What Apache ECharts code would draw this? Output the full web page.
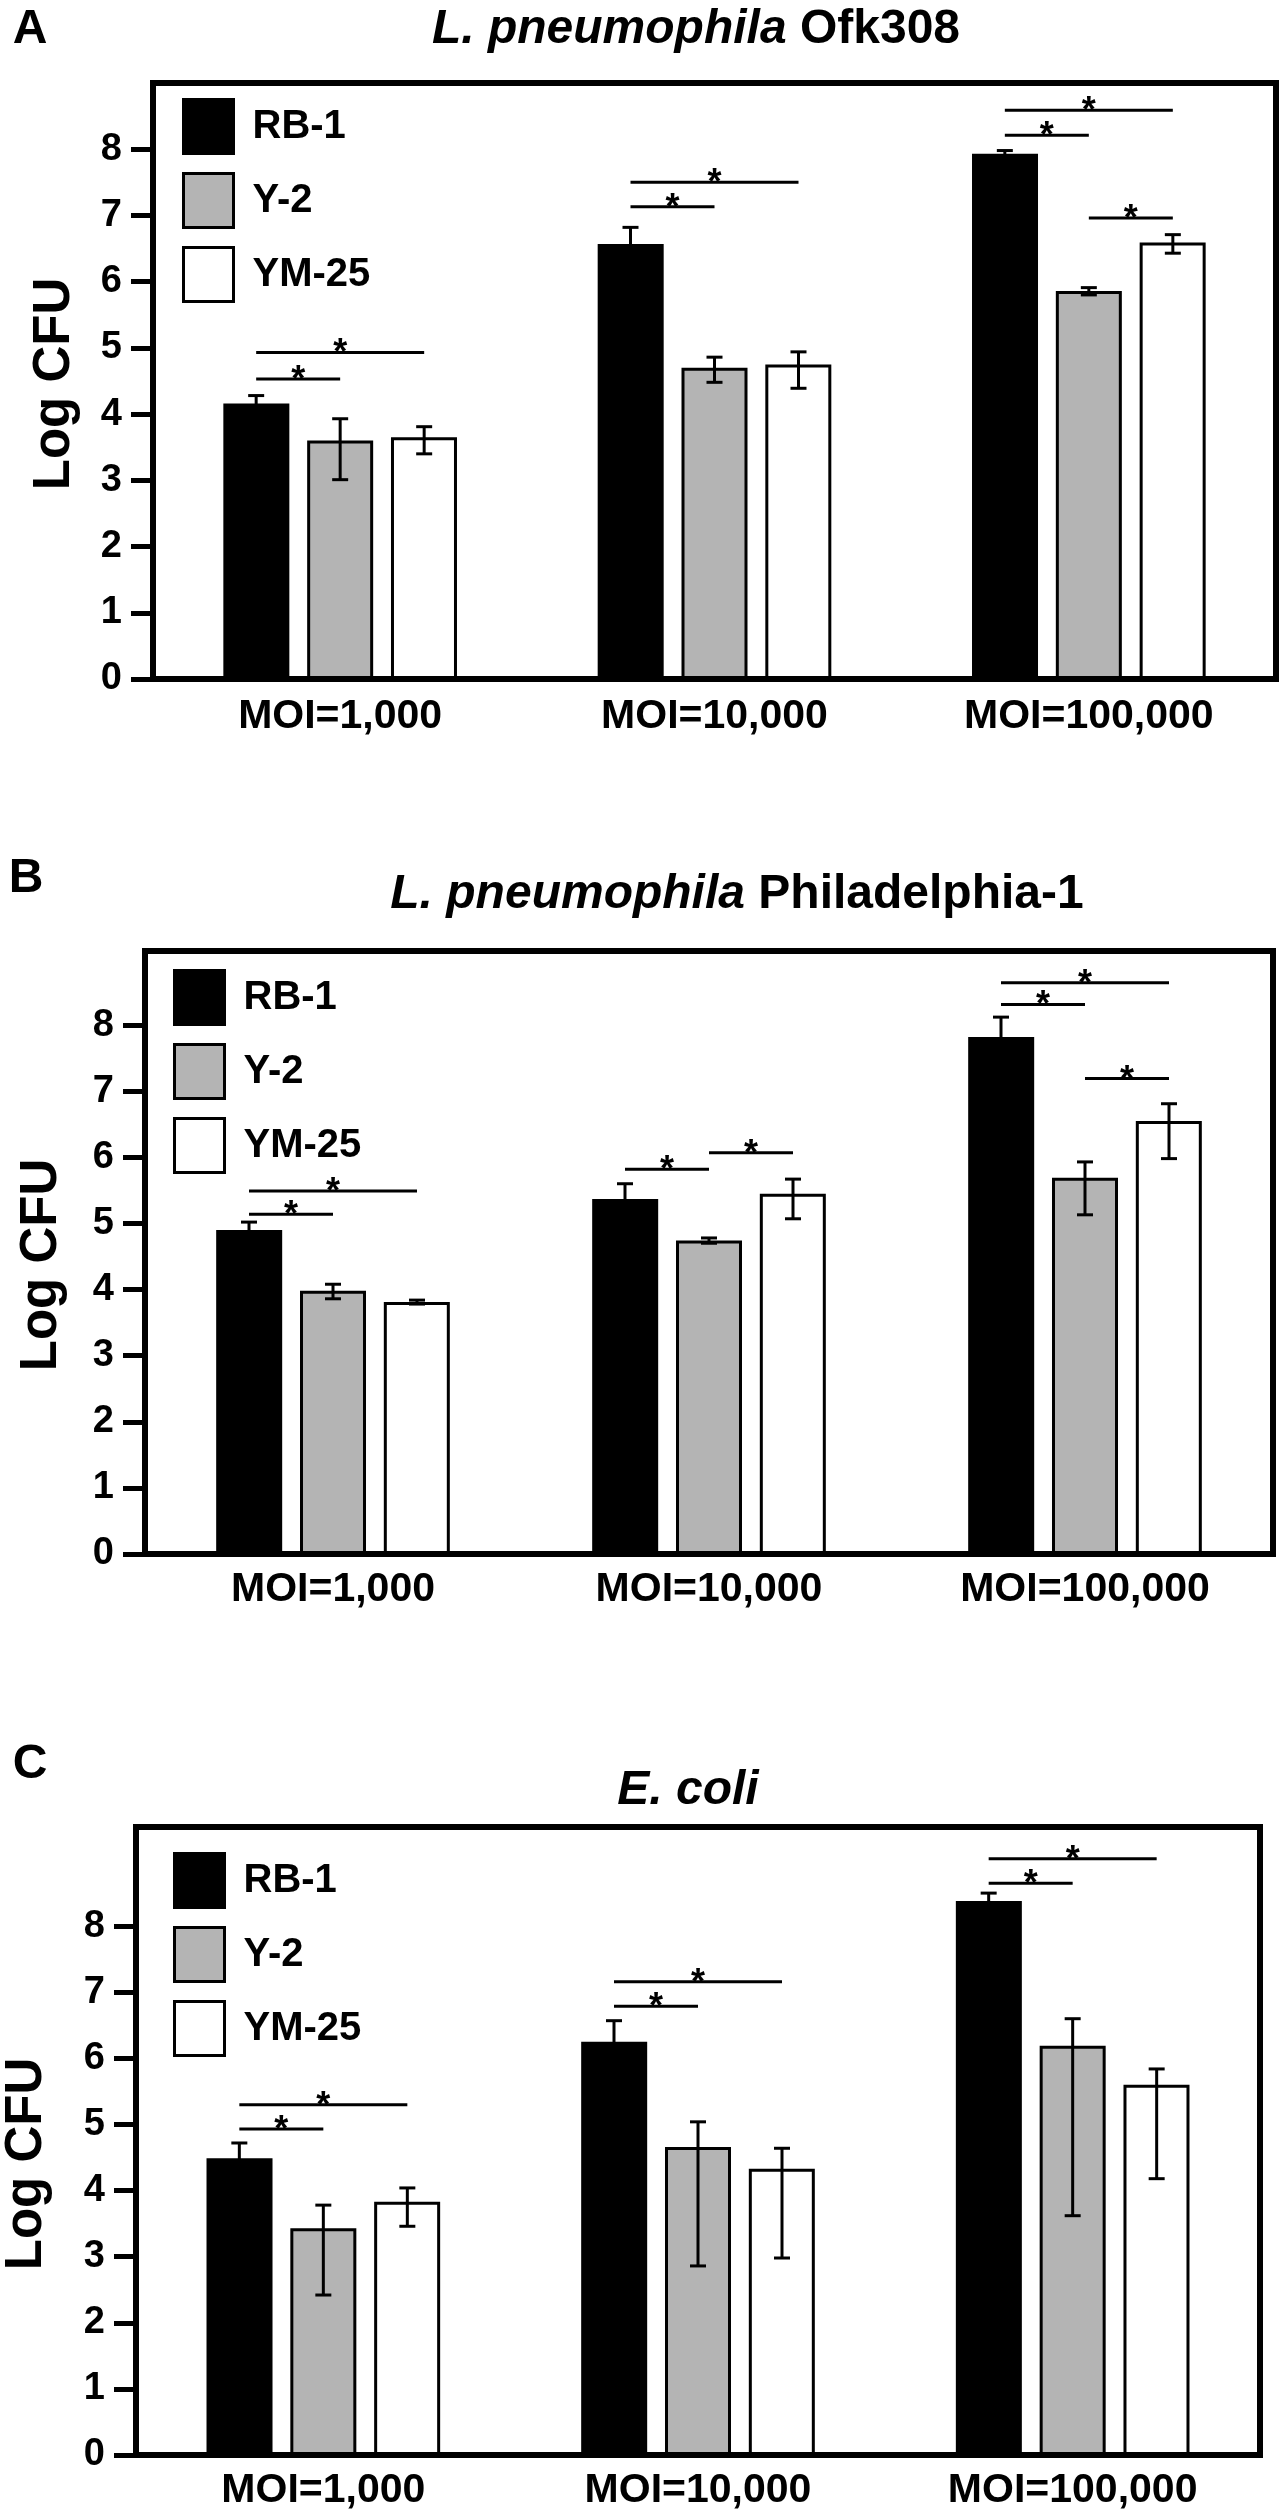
<!DOCTYPE html>
<html lang="en">

<head>
  <meta charset="UTF-8">
  <title>Log CFU by MOI</title>
  <script src="https://cdn.jsdelivr.net/npm/echarts@6.0.0/dist/echarts.min.js"></script>
  <style>
    body {
      margin: 0;
      background: #fff;
    }

    #chart {
      width: 1284px;
      height: 2518px;
    }
  </style>
</head>

<body>
  <div id="chart"></div>

  <script>
    // values (Log CFU), one row per strain, one column per MOI
    const categories = ['MOI=1,000', 'MOI=10,000', 'MOI=100,000']
    const seriesNames = ['RB-1', 'Y-2', 'YM-25']
    const yTicks = [0, 1, 2, 3, 4, 5, 6, 7, 8]

    // panel A - L. pneumophila Ofk308
    const meanA = [[4.16, 6.57, 7.93], [3.60, 4.70, 5.86], [3.65, 4.75, 6.59]]
    const upperA = [[4.28, 6.82, 7.98], [3.93, 4.86, 5.91], [3.81, 4.94, 6.71]]
    const lowerA = [[4.04, 6.32, 7.88], [3.01, 4.48, 5.80], [3.40, 4.39, 6.43]]
    // [category, from bar, to bar, height]
    const sigA = [[0, 0, 1, 4.53], [0, 0, 2, 4.93], [1, 0, 1, 7.13], [1, 0, 2, 7.50],
      [2, 0, 1, 8.21], [2, 0, 2, 8.59], [2, 1, 2, 6.96]]

    // panel B - L. pneumophila Philadelphia-1
    const meanB = [[4.90, 5.37, 7.82], [3.98, 4.74, 5.69], [3.81, 5.45, 6.55]]
    const upperB = [[5.02, 5.60, 8.12], [4.08, 4.78, 5.93], [3.84, 5.67, 6.81]]
    const lowerB = [[4.78, 5.14, 7.52], [3.86, 4.70, 5.13], [3.78, 5.07, 5.98]]
    const sigB = [[0, 0, 1, 5.14], [0, 0, 2, 5.49], [1, 0, 1, 5.82], [1, 1, 2, 6.07],
      [2, 0, 1, 8.31], [2, 0, 2, 8.64], [2, 1, 2, 7.19]]

    // panel C - E. coli
    const meanC = [[4.49, 6.25, 8.38], [3.43, 4.66, 6.19], [3.83, 4.33, 5.60]]
    const upperC = [[4.72, 6.57, 8.50], [3.78, 5.04, 6.60], [4.04, 4.64, 5.84]]
    const lowerC = [[4.26, 5.93, 8.26], [2.42, 2.86, 3.62], [3.46, 2.98, 4.18]]
    const sigC = [[0, 0, 1, 4.93], [0, 0, 2, 5.30], [1, 0, 1, 6.79], [1, 0, 2, 7.16],
      [2, 0, 1, 8.65], [2, 0, 2, 9.02]]

    const FONT = 'Liberation Sans, Arial, Helvetica, sans-serif'
    const BAR_STEP = 84
    const fills = ['#000000', '#b4b4b4', '#ffffff']

    const panels = [
      { mean: meanA, upper: upperA, lower: lowerA, sig: sigA, max: 9, grid: { left: 153, right: 8, top: 83, height: 596 }, legend: { left: 182, top: 98 }, labelMargin: 17 },
      { mean: meanB, upper: upperB, lower: lowerB, sig: sigB, max: 9.12, grid: { left: 145, right: 11, top: 951, height: 603 }, legend: { left: 173, top: 969 }, labelMargin: 15 },
      { mean: meanC, upper: upperC, lower: lowerC, sig: sigC, max: 9.5, grid: { left: 136, right: 24, top: 1827, height: 628 }, legend: { left: 173, top: 1852 }, labelMargin: 15 }
    ]

    function errorBars(params, api) {
      const top = api.coord([api.value(0), api.value(2)])
      const bot = api.coord([api.value(0), api.value(1)])
      const x = top[0] + (api.value(3) - 1) * BAR_STEP
      const cap = 8
      const st = { stroke: '#000', lineWidth: 3 }
      return {
        type: 'group',
        children: [
          { type: 'line', shape: { x1: x, y1: top[1], x2: x, y2: bot[1] }, style: st },
          { type: 'line', shape: { x1: x - cap, y1: top[1], x2: x + cap, y2: top[1] }, style: st },
          { type: 'line', shape: { x1: x - cap, y1: bot[1], x2: x + cap, y2: bot[1] }, style: st }
        ]
      }
    }

    function sigBrackets(params, api) {
      const p = api.coord([api.value(0), api.value(3)])
      const x1 = p[0] + (api.value(1) - 1) * BAR_STEP
      const x2 = p[0] + (api.value(2) - 1) * BAR_STEP
      return {
        type: 'group',
        children: [
          { type: 'line', shape: { x1: x1, y1: p[1], x2: x2, y2: p[1] }, style: { stroke: '#000', lineWidth: 3 } },
          {
            type: 'text',
            style: {
              x: (x1 + x2) / 2, y: p[1] + 2, text: '*', fill: '#000',
              font: 'bold 36px ' + FONT, align: 'center', verticalAlign: 'middle'
            }
          }
        ]
      }
    }

    const grid = [], xAxis = [], yAxis = [], legend = [], series = []
    panels.forEach((pn, p) => {
      grid.push(Object.assign({ show: true, borderColor: '#000', borderWidth: 6, backgroundColor: 'transparent' }, pn.grid))
      xAxis.push({
        type: 'category', gridIndex: p, data: categories,
        axisLine: { show: false }, axisTick: { show: false },
        axisLabel: { color: '#000', fontSize: 41, fontWeight: 'bold', fontFamily: FONT, margin: pn.labelMargin }
      })
      yAxis.push({
        type: 'value', gridIndex: p, min: 0, max: pn.max, interval: 1,
        splitLine: { show: false },
        axisLine: { show: true, lineStyle: { color: '#000', width: 6 } },
        axisTick: { show: true, length: 22, lineStyle: { color: '#000', width: 5 }, customValues: yTicks },
        axisLabel: { color: '#000', fontSize: 38, fontWeight: 'bold', fontFamily: FONT, margin: 31, customValues: yTicks }
      })
      legend.push({
        left: pn.legend.left, top: pn.legend.top, orient: 'vertical', padding: 0,
        itemWidth: 50, itemHeight: 54, itemGap: 17, icon: 'rect', selectedMode: false,
        data: seriesNames,
        itemStyle: { borderColor: '#000', borderWidth: 3 },
        textStyle: { color: '#000', fontSize: 40, fontWeight: 'bold', fontFamily: FONT, padding: [0, 0, 0, 14] }
      })
      seriesNames.forEach((name, k) => {
        series.push({
          name: name, type: 'bar', xAxisIndex: p, yAxisIndex: p,
          data: pn.mean[k], barWidth: 66, barGap: '27%',
          itemStyle: { color: fills[k], borderColor: '#000', borderWidth: 3 }
        })
      })
      const err = []
      seriesNames.forEach((name, k) => {
        categories.forEach((c, i) => err.push([i, pn.lower[k][i], pn.upper[k][i], k]))
      })
      series.push({
        type: 'custom', xAxisIndex: p, yAxisIndex: p, z: 4,
        renderItem: errorBars, data: err, encode: { x: 0, y: [1, 2] }
      })
      series.push({
        type: 'custom', xAxisIndex: p, yAxisIndex: p, z: 4,
        renderItem: sigBrackets, data: pn.sig, encode: { x: 0, y: 3 }
      })
    })

    function label(text, x, y, size, extra) {
      return Object.assign({
        type: 'text', x: x, y: y,
        style: { text: text, fill: '#000', font: 'bold ' + size + 'px ' + FONT, align: 'center', verticalAlign: 'middle' }
      }, extra || {})
    }

    function title(italic, plain, x, y) {
      return {
        type: 'text', x: x, y: y,
        style: {
          text: '{i|' + italic + '}' + (plain ? ' ' + plain : ''),
          fill: '#000', font: 'bold 48px ' + FONT, align: 'center', verticalAlign: 'middle',
          rich: { i: { fontStyle: 'italic', fontWeight: 'bold', fontSize: 48, fontFamily: FONT } }
        }
      }
    }

    const graphic = [
      label('A', 30, 30, 48),
      label('B', 26, 879, 48),
      label('C', 30, 1765, 48),
      title('L. pneumophila', 'Ofk308', 696, 30),
      title('L. pneumophila', 'Philadelphia-1', 737, 895),
      title('E. coli', '', 688, 1791),
      label('Log CFU', 55, 384, 51, { rotation: Math.PI / 2 }),
      label('Log CFU', 42, 1265, 51, { rotation: Math.PI / 2 }),
      label('Log CFU', 27, 2164, 51, { rotation: Math.PI / 2 })
    ]

    const myChart = echarts.init(document.getElementById('chart'))
    myChart.setOption({
      animation: false,
      backgroundColor: '#fff',
      grid: grid,
      xAxis: xAxis,
      yAxis: yAxis,
      legend: legend,
      graphic: graphic,
      series: series
    })
  </script>
</body>

</html>
